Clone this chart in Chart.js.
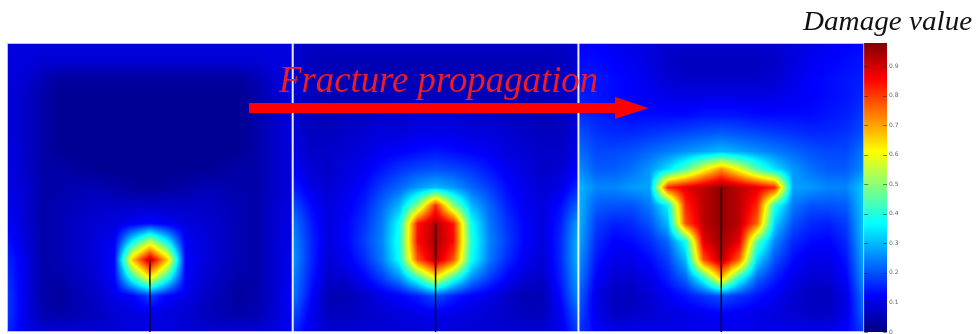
<!DOCTYPE html>
<html lang="en">
<head>
  <meta charset="UTF-8">
  <meta name="viewport" content="width=device-width, initial-scale=1.0">
  <title>Damage value</title>
  <style>
    body {
      margin: 0;
      padding: 0;
      background-color: #fff;
    }

    #box {
      position: relative;
      width: 977px;
      height: 334px;
    }
  </style>
  <script src="https://cdn.jsdelivr.net/npm/chart.js"></script>
</head>
<body>

  <div id="box">
    <canvas id="grafico"></canvas>
  </div>

  <script>
    // damage at the mesh nodes, 17 rows (top to bottom) x 17 columns (left to right)
    const damageA = [
      [.10,.09,.09,.09,.09,.09,.09,.09,.09,.09,.09,.09,.09,.09,.09,.09,.10],
      [.09,.09,.08,.08,.08,.08,.08,.08,.08,.08,.08,.08,.08,.08,.08,.09,.09],
      [.09,.08,.05,.03,.03,.03,.03,.03,.03,.03,.03,.03,.03,.03,.05,.08,.09],
      [.09,.07,.04,.02,.02,.02,.02,.02,.02,.02,.02,.02,.02,.02,.04,.07,.09],
      [.09,.07,.04,.02,.02,.02,.02,.02,.02,.02,.02,.02,.02,.02,.04,.07,.09],
      [.09,.07,.04,.02,.02,.02,.02,.02,.02,.02,.02,.02,.02,.02,.04,.07,.09],
      [.10,.07,.04,.02,.02,.02,.02,.02,.02,.02,.02,.02,.02,.02,.04,.07,.09],
      [.10,.07,.04,.04,.03,.02,.02,.02,.02,.02,.02,.02,.03,.04,.04,.07,.09],
      [.10,.08,.04,.04,.05,.05,.04,.03,.02,.03,.04,.05,.05,.04,.04,.07,.09],
      [.11,.08,.04,.05,.06,.07,.07,.07,.07,.07,.07,.07,.06,.05,.04,.08,.09],
      [.12,.08,.04,.05,.07,.08,.09,.11,.13,.11,.09,.08,.07,.05,.04,.08,.10],
      [.14,.09,.04,.05,.07,.09,.11,.36,.55,.36,.11,.09,.07,.05,.04,.08,.10],
      [.16,.10,.04,.05,.07,.09,.12,.66,.92,.66,.12,.09,.07,.05,.04,.08,.11],
      [.17,.10,.04,.04,.06,.08,.12,.40,.62,.40,.12,.08,.06,.04,.04,.08,.11],
      [.18,.10,.04,.03,.05,.07,.10,.12,.18,.12,.10,.07,.05,.03,.04,.08,.12],
      [.18,.10,.05,.04,.05,.06,.08,.09,.10,.09,.08,.06,.05,.04,.05,.08,.12],
      [.16,.10,.08,.08,.08,.08,.08,.09,.09,.09,.08,.08,.08,.08,.08,.09,.11]
    ];

    const damageB = [
      [.08,.07,.07,.07,.07,.07,.07,.07,.07,.07,.07,.07,.07,.07,.07,.07,.08],
      [.08,.06,.05,.05,.05,.05,.05,.05,.05,.05,.05,.05,.05,.05,.05,.06,.08],
      [.08,.06,.05,.05,.05,.05,.05,.05,.05,.05,.05,.05,.05,.05,.05,.06,.08],
      [.08,.06,.05,.05,.05,.05,.06,.06,.06,.06,.06,.05,.05,.05,.05,.06,.08],
      [.08,.06,.05,.06,.06,.07,.07,.08,.08,.08,.07,.07,.06,.06,.05,.06,.08],
      [.09,.06,.06,.07,.08,.09,.09,.10,.10,.10,.09,.09,.08,.07,.06,.06,.09],
      [.10,.07,.07,.08,.09,.11,.12,.13,.14,.13,.12,.11,.09,.08,.07,.07,.10],
      [.12,.08,.07,.09,.11,.14,.17,.19,.20,.19,.17,.14,.11,.09,.07,.08,.12],
      [.15,.10,.08,.10,.13,.18,.22,.27,.30,.27,.22,.18,.13,.10,.08,.10,.16],
      [.20,.13,.09,.11,.15,.22,.30,.50,.82,.50,.30,.22,.15,.11,.09,.13,.22],
      [.24,.15,.09,.12,.17,.24,.38,.84,.93,.84,.38,.24,.17,.12,.09,.15,.28],
      [.26,.16,.09,.12,.18,.25,.40,.85,.94,.85,.40,.25,.18,.12,.09,.16,.30],
      [.27,.16,.08,.11,.16,.24,.38,.78,.92,.78,.38,.24,.16,.11,.08,.16,.30],
      [.25,.15,.07,.08,.12,.18,.26,.42,.62,.42,.26,.18,.12,.08,.07,.15,.28],
      [.24,.13,.05,.05,.07,.10,.12,.15,.20,.15,.12,.10,.07,.05,.05,.13,.26],
      [.20,.11,.06,.06,.07,.08,.09,.10,.11,.10,.09,.08,.07,.06,.06,.11,.22],
      [.16,.10,.08,.08,.08,.08,.08,.08,.09,.08,.08,.08,.08,.08,.08,.10,.18]
    ];

    const damageC = [
      [.12,.12,.11,.10,.09,.08,.08,.08,.08,.08,.08,.08,.09,.10,.11,.12,.13],
      [.13,.13,.12,.11,.09,.07,.06,.06,.06,.06,.06,.07,.09,.11,.12,.13,.14],
      [.14,.14,.13,.12,.10,.08,.07,.07,.07,.07,.07,.08,.10,.12,.13,.14,.15],
      [.15,.14,.13,.12,.11,.10,.10,.10,.10,.10,.10,.10,.11,.12,.13,.14,.16],
      [.17,.15,.14,.13,.13,.13,.13,.14,.14,.14,.13,.13,.13,.13,.14,.15,.18],
      [.20,.17,.16,.16,.17,.18,.19,.20,.21,.20,.19,.18,.17,.16,.16,.17,.20],
      [.23,.19,.19,.20,.22,.24,.26,.28,.30,.28,.26,.24,.22,.20,.19,.19,.24],
      [.26,.21,.21,.23,.27,.34,.45,.60,.72,.60,.45,.34,.27,.23,.21,.21,.26],
      [.30,.25,.25,.27,.28,.82,.88,.92,.96,.92,.88,.82,.28,.27,.25,.25,.32],
      [.30,.21,.20,.20,.24,.36,.82,.92,.96,.92,.82,.40,.24,.20,.20,.21,.32],
      [.30,.18,.15,.16,.20,.30,.78,.92,.96,.92,.76,.32,.20,.16,.15,.18,.32],
      [.29,.16,.12,.13,.16,.22,.38,.88,.95,.88,.45,.25,.16,.13,.12,.16,.31],
      [.27,.14,.10,.10,.13,.18,.30,.78,.93,.76,.33,.20,.13,.10,.10,.14,.29],
      [.25,.12,.08,.08,.10,.15,.22,.40,.68,.40,.22,.15,.10,.08,.08,.12,.27],
      [.22,.10,.06,.06,.08,.11,.14,.17,.20,.17,.14,.11,.08,.06,.06,.10,.24],
      [.20,.10,.07,.07,.08,.09,.10,.11,.12,.11,.10,.09,.08,.07,.07,.10,.22],
      [.17,.12,.10,.10,.10,.10,.10,.10,.10,.10,.10,.10,.10,.10,.10,.12,.18]
    ];

    const crackX = [0.5, 1.5, 2.5];
    const crackTip = [0.25, 0.375, 0.5];
    const colorTicks = [0, 0.1, 0.2, 0.3, 0.4, 0.5, 0.6, 0.7, 0.8, 0.9];
    const damageMax = 0.978;

    const fields = [damageA, damageB, damageC];

    function jet(v) {
      const t = Math.min(Math.max(v / damageMax, 0), 1) * 4;
      const f = k => Math.round(255 * Math.min(Math.max(1.5 - Math.abs(t - k), 0), 1));
      return [f(3), f(2), f(1)];
    }

    // bilinear value inside one panel, fx and fy go 0..1
    function sample(grid, fx, fy) {
      const rows = grid.length - 1, cols = grid[0].length - 1;
      const gx = Math.min(Math.max(fx, 0), 1) * cols;
      const gy = Math.min(Math.max(1 - fy, 0), 1) * rows;
      const c0 = Math.min(Math.floor(gx), cols - 1);
      const r0 = Math.min(Math.floor(gy), rows - 1);
      const u = gx - c0, w = gy - r0;
      const top = grid[r0][c0] * (1 - u) + grid[r0][c0 + 1] * u;
      const bot = grid[r0 + 1][c0] * (1 - u) + grid[r0 + 1][c0 + 1] * u;
      return top * (1 - w) + bot * w;
    }

    function textoAjustado(ctx, txt, font, color, x0, x1, base) {
      ctx.save();
      ctx.font = font;
      ctx.fillStyle = color;
      ctx.textAlign = 'left';
      ctx.textBaseline = 'alphabetic';
      const larg = ctx.measureText(txt).width;
      ctx.translate(x0, base);
      ctx.scale((x1 - x0) / larg, 1);
      ctx.fillText(txt, 0, 0);
      ctx.restore();
    }

    const mapaDano = {
      id: 'mapaDano',
      beforeDatasetsDraw(chart) {
        const { ctx, chartArea: a } = chart;
        const { x, y, c } = chart.scales;
        const w = Math.round(a.right - a.left), h = Math.round(a.bottom - a.top);
        const off = document.createElement('canvas');
        off.width = w;
        off.height = h;
        const octx = off.getContext('2d');
        const img = octx.createImageData(w, h);
        for (let j = 0; j < h; j++) {
          const yv = y.getValueForPixel(a.top + j + 0.5);
          const cv = c.getValueForPixel(a.top + j + 0.5);
          for (let i = 0; i < w; i++) {
            const xv = x.getValueForPixel(a.left + i + 0.5);
            const p = Math.floor(xv);
            const v = p < fields.length ? sample(fields[p], xv - p, yv) : cv;
            const rgb = jet(v);
            const k = (j * w + i) * 4;
            img.data[k] = rgb[0];
            img.data[k + 1] = rgb[1];
            img.data[k + 2] = rgb[2];
            img.data[k + 3] = 255;
          }
        }
        octx.putImageData(img, 0, 0);
        ctx.drawImage(off, a.left, a.top);

        // panel frames
        ctx.save();
        ctx.strokeStyle = 'rgba(205,205,245,0.9)';
        ctx.lineWidth = 1;
        ctx.strokeRect(x.getPixelForValue(0) + 0.5, a.top + 0.5,
          x.getPixelForValue(fields.length) - x.getPixelForValue(0) - 1, a.bottom - a.top - 1);
        ctx.strokeStyle = 'rgba(245,245,255,0.95)';
        ctx.lineWidth = 2;
        for (let p = 1; p < fields.length; p++) {
          const px = x.getPixelForValue(p);
          ctx.beginPath();
          ctx.moveTo(px, a.top);
          ctx.lineTo(px, a.bottom);
          ctx.stroke();
        }

        // colorbar ticks
        const cl = x.getPixelForValue(fields.length);
        ctx.strokeStyle = 'rgba(40,40,40,0.55)';
        ctx.lineWidth = 1;
        colorTicks.forEach(t => {
          const py = Math.round(c.getPixelForValue(t)) + 0.5;
          ctx.beginPath();
          ctx.moveTo(cl, py);
          ctx.lineTo(cl + 4, py);
          ctx.moveTo(a.right - 4, py);
          ctx.lineTo(a.right, py);
          ctx.stroke();
        });
        ctx.restore();
      },
      afterDraw(chart) {
        const { ctx } = chart;
        const { x, y } = chart.scales;

        // arrow
        const yA = y.getPixelForValue(0.775);
        const x0 = x.getPixelForValue(0.847);
        const x1 = x.getPixelForValue(2.128);
        const x2 = x.getPixelForValue(2.244);
        ctx.save();
        ctx.fillStyle = '#ff0000';
        ctx.fillRect(x0, yA - 5, x1 - x0, 10);
        ctx.beginPath();
        ctx.moveTo(x1, yA - 11);
        ctx.lineTo(x2, yA);
        ctx.lineTo(x1, yA + 11);
        ctx.closePath();
        ctx.fill();
        ctx.restore();

        textoAjustado(ctx, 'Fracture propagation', 'italic 38px "Liberation Serif"', '#ee1c24',
          x.getPixelForValue(0.952), x.getPixelForValue(2.069), y.getPixelForValue(0.83));
        textoAjustado(ctx, 'Damage value', 'italic 27px "Liberation Serif"', '#111',
          x.getPixelForValue(2.786), x.getPixelForValue(3.378), y.getPixelForValue(1.045));
      }
    };

    new Chart(document.getElementById('grafico'), {
      type: 'scatter',
      data: {
        datasets: crackX.map((cx, i) => ({
          data: [{ x: cx, y: 0 }, { x: cx, y: crackTip[i] }],
          showLine: true,
          borderColor: '#000',
          borderWidth: 1.5,
          pointRadius: 0
        }))
      },
      options: {
        responsive: true,
        maintainAspectRatio: false,
        animation: false,
        layout: { padding: { left: 7, top: 43, right: 0, bottom: 2 } },
        plugins: {
          legend: { display: false },
          tooltip: { enabled: false }
        },
        scales: {
          x: { type: 'linear', min: 0, max: 3.08, display: false },
          y: { type: 'linear', min: 0, max: 1, display: false },
          c: {
            type: 'linear',
            position: 'right',
            min: 0,
            max: damageMax,
            grid: { display: false, drawTicks: false },
            border: { display: false },
            ticks: {
              stepSize: 0.1,
              includeBounds: false,
              padding: 2,
              color: '#666',
              font: { size: 6, family: 'DejaVu Sans' },
              callback: v => v === 0 ? '0' : v.toFixed(1)
            },
            afterFit: s => {
              s.width = 90;
              s.paddingTop = 0;
              s.paddingBottom = 0;
            }
          }
        }
      },
      plugins: [mapaDano]
    });
  </script>
</body>
</html>
